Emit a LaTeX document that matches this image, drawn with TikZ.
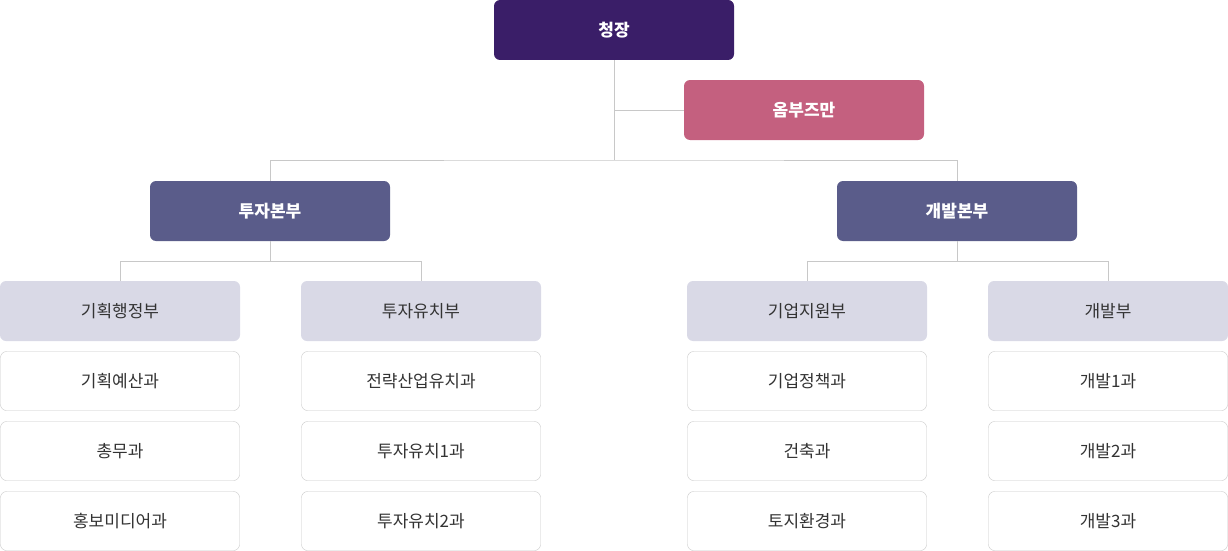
\documentclass[tikz,border=0pt]{standalone}
\usepackage{fontspec}
\newfontfamily\kr{Noto Sans CJK KR}
\definecolor{cTop}{HTML}{3A1E68}
\definecolor{cOmb}{HTML}{C4607F}
\definecolor{cDiv}{HTML}{5A5C8A}
\definecolor{cDep}{HTML}{D9D9E6}
\definecolor{cLine}{HTML}{C8C8C8}
\definecolor{cTxt}{HTML}{333333}
\begin{document}
\begin{tikzpicture}[x=1pt,y=-1pt,
 bx/.style={rounded corners=6pt,minimum width=240pt,minimum height=60pt,inner sep=0pt,font=\kr\fontsize{17}{20}\selectfont},
 dark/.style={bx,fill=#1,text=white,font=\kr\bfseries\fontsize{17}{20}\selectfont},
 dep/.style={bx,fill=cDep,text=cTxt},
 sec/.style={bx,fill=white,draw=cLine,text=cTxt,minimum width=239pt,minimum height=59pt},
 ln/.style={draw=cLine,line width=1pt}]
\useasboundingbox (0,0) rectangle (1228,551);
\node[dark=cTop] (top) at (614,30) {청장};
\node[dark=cOmb] (omb) at (804,110) {옴부즈만};
\node[dark=cDiv] (d1) at (270,211) {투자본부};
\node[dark=cDiv] (d2) at (957,211) {개발본부};
\node[dep] (a) at (120,311) {기획행정부};
\node[dep] (b) at (421,311) {투자유치부};
\node[dep] (c) at (807,311) {기업지원부};
\node[dep] (d) at (1108,311) {개발부};
\foreach \n/\x/\t in {a1/120/기획예산과,a2/120/총무과,a3/120/홍보미디어과}{}
\node[sec] (a1) at (120,381) {기획예산과};
\node[sec] (a2) at (120,451) {총무과};
\node[sec] (a3) at (120,521) {홍보미디어과};
\node[sec] (b1) at (421,381) {전략산업유치과};
\node[sec] (b2) at (421,451) {투자유치1과};
\node[sec] (b3) at (421,521) {투자유치2과};
\node[sec] (c1) at (807,381) {기업정책과};
\node[sec] (c2) at (807,451) {건축과};
\node[sec] (c3) at (807,521) {토지환경과};
\node[sec] (d1a) at (1108,381) {개발1과};
\node[sec] (d2a) at (1108,451) {개발2과};
\node[sec] (d3a) at (1108,521) {개발3과};
\coordinate (j1) at (614,160);
\path[ln] (top.south) -- (j1);
\path[ln] (614,110) -- (omb.west);
\path[ln] (d1.north) |- (j1) -| (d2.north);
\path[ln] (d1.south) -- ++(0,20) -| (a.north);
\path[ln] (d1.south) ++(0,20) -| (b.north);
\path[ln] (d2.south) -- ++(0,20) -| (c.north);
\path[ln] (d2.south) ++(0,20) -| (d.north);
\end{tikzpicture}
\end{document}
